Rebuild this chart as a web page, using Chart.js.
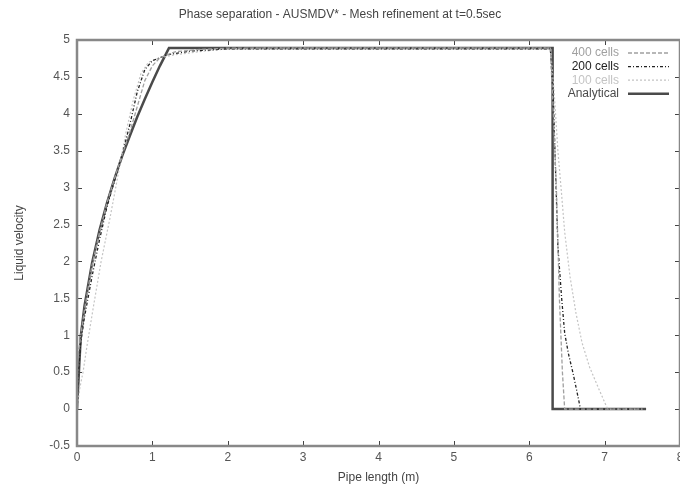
<!DOCTYPE html>
<html>
<head>
<meta charset="utf-8">
<script src="https://cdn.jsdelivr.net/npm/chart.js@4/dist/chart.umd.min.js"></script>
<style>
  html, body { margin: 0; padding: 0; overflow: hidden; background: #fff; }
  #wrap { width: 700px; height: 488px; }
</style>
</head>
<body>
<div id="wrap"><canvas id="phaseChart" width="700" height="488"></canvas></div>
<script>
// values: [x (m), liquid velocity]
const cells400 = [[0,0],[0.01,0.7],[0.05,1.0],[0.1,1.35],[0.2,1.95],[0.3,2.4],[0.4,2.8],[0.5,3.13],[0.6,3.45],[0.7,3.75],[0.8,4.1],[0.9,4.45],[1.0,4.65],[1.1,4.76],[1.3,4.84],[1.6,4.87],[2.0,4.89],[6.28,4.89],[6.32,4.0],[6.36,3.0],[6.40,1.5],[6.44,0.5],[6.47,0],[7.5,0]];
const cells200 = [[0,0],[0.02,0.5],[0.05,0.9],[0.1,1.25],[0.2,1.8],[0.3,2.3],[0.4,2.75],[0.5,3.1],[0.6,3.45],[0.7,3.85],[0.8,4.3],[0.9,4.6],[1.0,4.72],[1.2,4.8],[1.5,4.85],[2.0,4.88],[6.28,4.88],[6.32,4.2],[6.35,3.2],[6.38,2.2],[6.43,1.5],[6.47,1.03],[6.52,0.75],[6.58,0.49],[6.63,0.25],[6.68,0],[7.5,0]];
const cells100 = [[0,0],[0.04,0.3],[0.08,0.5],[0.13,0.84],[0.22,1.4],[0.32,2.0],[0.44,2.6],[0.55,3.2],[0.65,3.75],[0.75,4.2],[0.85,4.55],[0.95,4.7],[1.1,4.76],[1.3,4.8],[1.6,4.84],[2.0,4.88],[2.5,4.89],[6.28,4.89],[6.33,4.3],[6.38,3.5],[6.43,2.9],[6.47,2.4],[6.54,1.8],[6.62,1.3],[6.7,0.9],[6.8,0.57],[6.92,0.28],[7.04,0],[7.5,0]];
const analytical = [[0,0],[0.05,0.99],[0.1,1.4],[0.2,1.98],[0.3,2.43],[0.4,2.8],[0.5,3.13],[0.6,3.43],[0.7,3.7],[0.8,3.96],[0.9,4.2],[1.0,4.43],[1.1,4.65],[1.22,4.89],[6.31,4.89],[6.31,0],[7.55,0]];

const seriesLabels = ["400 cells", "200 cells", "100 cells", "Analytical"];
const xTicks = [0, 1, 2, 3, 4, 5, 6, 7, 8];
const yTicks = [-0.5, 0, 0.5, 1, 1.5, 2, 2.5, 3, 3.5, 4, 4.5, 5];

const FONT = "'Liberation Sans', sans-serif";
const toPts = arr => arr.map(p => ({ x: p[0], y: p[1] }));

// gnuplot style frame with inward ticks on all sides
const framePlugin = {
    id: "frame",
    afterDatasetsDraw(chart) {
        const { ctx, chartArea: a, scales } = chart;
        ctx.save();
        ctx.strokeStyle = "#444";
        ctx.lineWidth = 1;
        ctx.beginPath();
        xTicks.forEach(v => {
            const px = Math.round(scales.x.getPixelForValue(v)) + 0.5;
            ctx.moveTo(px, a.bottom); ctx.lineTo(px, a.bottom - 5);
            ctx.moveTo(px, a.top); ctx.lineTo(px, a.top + 5);
        });
        yTicks.forEach(v => {
            const py = Math.round(scales.y.getPixelForValue(v)) + 0.5;
            ctx.moveTo(a.left, py); ctx.lineTo(a.left + 5, py);
            ctx.moveTo(a.right, py); ctx.lineTo(a.right - 5, py);
        });
        ctx.stroke();
        ctx.strokeStyle = "#888";
        ctx.lineWidth = 2.5;
        ctx.strokeRect(a.left, a.top, a.right - a.left, a.bottom - a.top);
        ctx.restore();
    }
};

// legend: text right aligned, line sample on the right
const keyPlugin = {
    id: "key",
    afterDraw(chart) {
        const { ctx } = chart;
        ctx.save();
        ctx.font = "12px " + FONT;
        ctx.textAlign = "right";
        ctx.textBaseline = "middle";
        chart.data.datasets.forEach((ds, i) => {
            const y = 53 + i * 13.6;
            ctx.fillStyle = ds.borderColor;
            ctx.fillText(ds.label, 619, y);
            ctx.strokeStyle = ds.borderColor;
            ctx.lineWidth = ds.borderWidth;
            ctx.setLineDash(ds.borderDash || []);
            ctx.beginPath();
            ctx.moveTo(628, y); ctx.lineTo(669, y);
            ctx.stroke();
        });
        ctx.restore();
    }
};

new Chart(document.getElementById("phaseChart"), {
    type: "line",
    data: {
        datasets: [
            { label: seriesLabels[0], data: toPts(cells400), borderColor: "#a0a0a0", borderWidth: 1.3, borderDash: [4, 2] },
            { label: seriesLabels[1], data: toPts(cells200), borderColor: "#222", borderWidth: 1.3, borderDash: [3, 2, 1, 2] },
            { label: seriesLabels[2], data: toPts(cells100), borderColor: "#c4c4c4", borderWidth: 1.2, borderDash: [2, 2] },
            { label: seriesLabels[3], data: toPts(analytical), borderColor: "#4a4a4a", borderWidth: 2.5 }
        ]
    },
    options: {
        responsive: false,
        animation: false,
        layout: { padding: { left: 0, right: 20, top: 0, bottom: 0 } },
        elements: { point: { radius: 0 }, line: { tension: 0 } },
        plugins: {
            legend: { display: false },
            tooltip: { enabled: false },
            title: {
                display: true,
                text: "Phase separation - AUSMDV* - Mesh refinement at t=0.5sec",
                color: "#444",
                font: { family: FONT, size: 12, weight: "normal" },
                padding: { top: 7, bottom: 18.6 }
            }
        },
        scales: {
            x: {
                type: "linear",
                min: 0, max: 8,
                afterBuildTicks: s => { s.ticks = xTicks.map(v => ({ value: v })); },
                afterFit: s => { s.height = 42; },
                grid: { display: false, drawTicks: false },
                border: { display: false },
                ticks: { color: "#555", padding: 4, maxRotation: 0, callback: v => String(v), font: { family: FONT, size: 12 } },
                title: { display: true, text: "Pipe length (m)", color: "#444", padding: { top: 0, bottom: 2.8 }, font: { family: FONT, size: 12 } }
            },
            y: {
                type: "linear",
                min: -0.5, max: 5,
                afterBuildTicks: s => { s.ticks = yTicks.map(v => ({ value: v })); },
                afterFit: s => { s.width = 77; },
                grid: { display: false, drawTicks: false },
                border: { display: false },
                ticks: { color: "#555", padding: 7, callback: v => String(v), font: { family: FONT, size: 12 } },
                title: { display: true, text: "Liquid velocity", color: "#444", padding: { top: 12.8, bottom: 0 }, font: { family: FONT, size: 12 } }
            }
        }
    },
    plugins: [framePlugin, keyPlugin]
});
</script>
</body>
</html>
